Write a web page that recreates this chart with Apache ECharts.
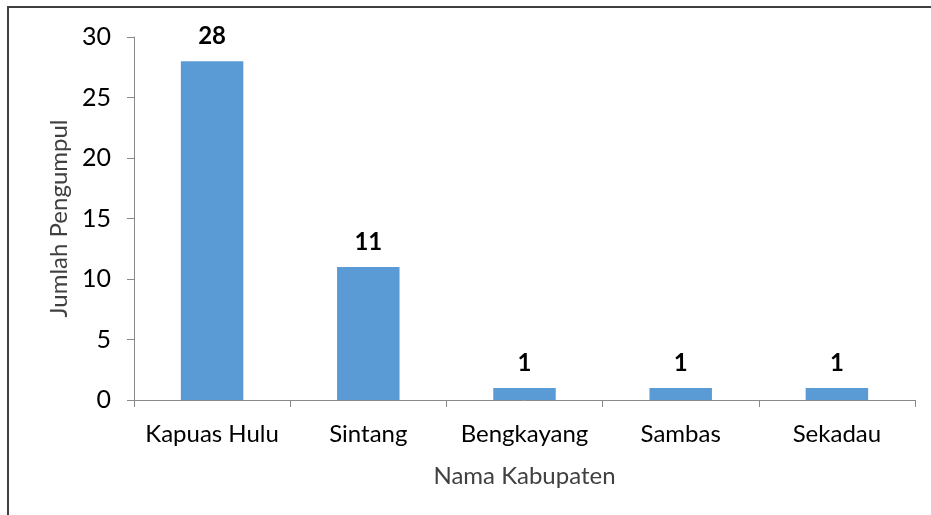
<!DOCTYPE html>
<html>
<head>
<meta charset="utf-8">
<script src="https://cdn.jsdelivr.net/npm/echarts@6/dist/echarts.min.js"></script>
<style>
html, body { margin: 0; padding: 0; background: #fff; }
#main { width: 931px; height: 515px; }
</style>
</head>
<body>
<div id="main"></div>
<script>
// data
var categories = ['Kapuas Hulu', 'Sintang', 'Bengkayang', 'Sambas', 'Sekadau']
var values = [28, 11, 1, 1, 1]
var yName = 'Jumlah Pengumpul'
var xName = 'Nama Kabupaten'

var font = 'Lato'
var axisColor = '#898989'

var myChart = echarts.init(document.getElementById('main'))
myChart.setOption({
  animation: false,
  textStyle: { fontFamily: font },
  graphic: [{
    type: 'rect',
    shape: { x: 8, y: 7, width: 960, height: 560 },
    style: { fill: 'none', stroke: '#404040', lineWidth: 2 },
    silent: true
  }],
  grid: { left: 134, right: 16, top: 37, bottom: 115 },
  xAxis: {
    type: 'category',
    data: categories,
    name: xName,
    nameLocation: 'middle',
    nameGap: 64,
    nameTextStyle: { color: '#404040', fontSize: 24, fontFamily: font },
    axisLine: { lineStyle: { color: axisColor, width: 1 } },
    axisTick: { show: true, length: 7, lineStyle: { color: axisColor } },
    axisLabel: { interval: 0, color: '#000', fontSize: 24, margin: 22, fontFamily: font }
  },
  yAxis: {
    type: 'value',
    min: 0,
    max: 30,
    interval: 5,
    name: yName,
    nameLocation: 'middle',
    nameGap: 58,
    nameRotate: 90,
    nameTextStyle: { color: '#404040', fontSize: 24, fontFamily: font },
    axisLine: { show: true, lineStyle: { color: axisColor, width: 1 } },
    axisTick: { show: true, length: 7, lineStyle: { color: axisColor } },
    splitLine: { show: false },
    axisLabel: { color: '#000', fontSize: 25, margin: 23, fontFamily: font }
  },
  series: [{
    type: 'bar',
    data: values,
    barWidth: '40%',
    itemStyle: { color: '#5B9BD5' },
    label: {
      show: true,
      position: 'top',
      distance: 13,
      color: '#000',
      fontWeight: 'bold',
      fontSize: 24,
      fontFamily: font
    }
  }]
})
</script>
</body>
</html>
